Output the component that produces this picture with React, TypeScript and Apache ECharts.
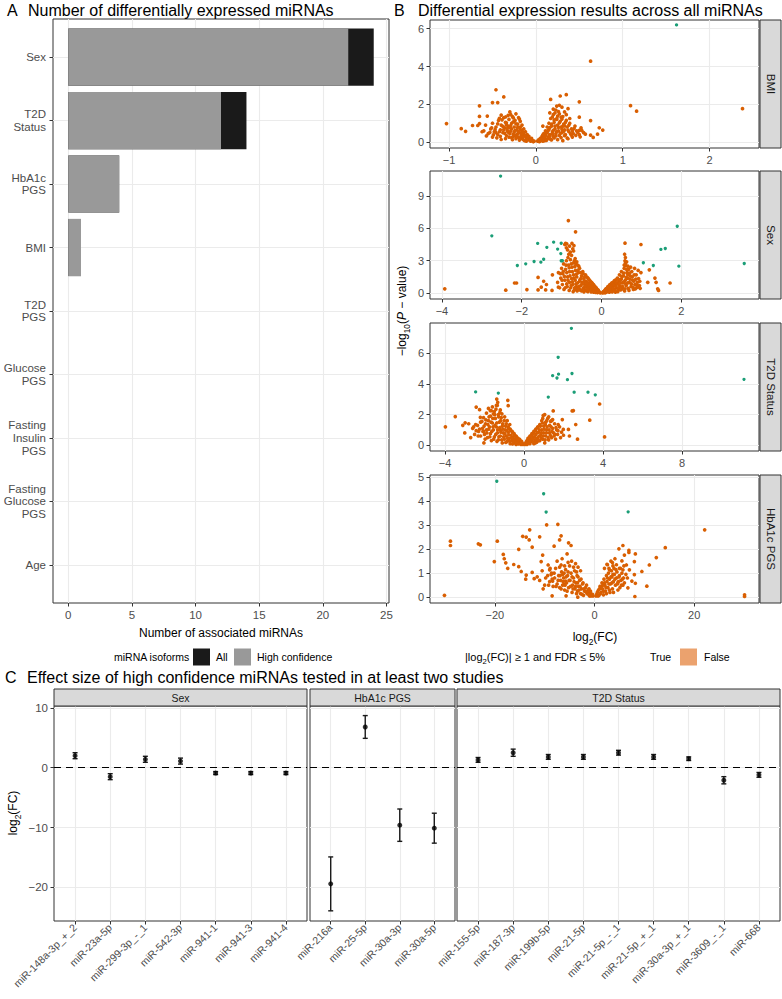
import React, { useEffect, useRef } from "react";
import * as echarts from "echarts";

const FONT = "'Liberation Sans', Arial, Helvetica, sans-serif";

// ---------- Panel A ----------
const studyCategories = ["Sex", "T2D Status", "HbA1c PGS", "BMI", "T2D PGS", "Glucose PGS", "Fasting Insulin PGS", "Fasting Glucose PGS", "Age"];
const studyTickLabels = ["Sex", "T2D\nStatus", "HbA1c\nPGS", "BMI", "T2D\nPGS", "Glucose\nPGS", "Fasting\nInsulin\nPGS", "Fasting\nGlucose\nPGS", "Age"];
const countAll = [24, 14, 4, 1, 0, 0, 0, 0, 0];
const countHighConfidence = [22, 12, 4, 1, 0, 0, 0, 0, 0];
const countTicks = [0, 5, 10, 15, 20, 25];

// ---------- Panel B (log2FC, -log10 P) ----------
const bmiFalse = [
  [0.63, 4.28], [-0.46, 2.77], [-0.37, 2.39], [-0.5, 2.09], [-0.44, 2.09], [-0.65, 1.92], [-1.03, 0.98], [-0.86, 0.71], [-0.81, 0.57], [-0.73, 0.88],
  [-0.65, 1.36], [-0.65, 0.98], [-0.56, 1.38], [-0.62, 0.55], [-0.67, 0.88], [-0.51, 0.76], [-0.4, 1.43], [0.35, 2.51], [0.28, 2.44], [0.5, 2.13],
  [0.37, 1.77], [0.17, 2.26], [0.24, 1.91], [0.5, 1.32], [0.63, 1.14], [1.09, 1.93], [1.16, 1.64], [2.38, 1.77], [0.73, 0.76], [0.77, 0.64],
  [0.63, 0.37], [0.66, 0.25], [0.71, 0.42], [0.37, 0.18], [0.5, 0.62], [0.41, 0.37], [0.31, 0.85], [0.24, 1.2], [0.16, 1.55], [0.08, 0.85],
  [-0.02, 0.05], [-0.04, 0.1], [-0.05, 0.2], [-0.06, 0.05], [-0.08, 0.3], [-0.08, 0.15], [-0.1, 0.4], [-0.1, 0.2], [-0.11, 0.05], [-0.12, 0.55],
  [-0.12, 0.3], [-0.14, 0.7], [-0.14, 0.45], [-0.15, 0.15], [-0.16, 0.9], [-0.16, 0.6], [-0.17, 0.35], [-0.18, 1.1], [-0.18, 0.8], [-0.19, 0.5],
  [-0.2, 0.25], [-0.2, 1.3], [-0.21, 0.95], [-0.22, 0.65], [-0.22, 0.4], [-0.23, 1.5], [-0.24, 1.15], [-0.25, 0.8], [-0.25, 0.55], [-0.26, 0.3],
  [-0.27, 1.35], [-0.28, 1.0], [-0.28, 0.7], [-0.3, 0.45], [-0.3, 1.6], [-0.31, 1.2], [-0.32, 0.85], [-0.33, 0.6], [-0.34, 0.35], [-0.35, 1.05],
  [-0.36, 0.75], [-0.37, 1.3], [-0.38, 0.5], [-0.4, 0.9], [-0.41, 0.65], [-0.43, 1.15], [-0.44, 0.4], [-0.46, 0.8], [-0.48, 0.55], [-0.5, 1.0],
  [-0.52, 0.7], [-0.55, 0.45], [-0.58, 0.9], [-0.6, 0.6],
  [-0.03, 0.02], [-0.07, 0.09], [-0.09, 0.27], [-0.13, 0.08], [-0.13, 0.36], [-0.15, 0.52], [-0.17, 0.21], [-0.18, 0.67], [-0.19, 0.11], [-0.21, 0.44],
  [-0.21, 0.78], [-0.23, 0.19], [-0.23, 0.97], [-0.24, 0.61], [-0.26, 0.42], [-0.26, 1.07], [-0.27, 0.13], [-0.29, 0.58], [-0.29, 0.88], [-0.31, 0.27],
  [-0.32, 1.42], [-0.33, 0.72], [-0.34, 1.02], [-0.35, 0.19], [-0.36, 0.47], [-0.38, 0.83], [-0.39, 1.18], [-0.41, 0.31], [-0.42, 0.55], [-0.44, 0.97],
  [-0.45, 0.23], [-0.47, 0.66], [-0.49, 0.38], [-0.53, 0.52], [-0.57, 0.33], [-0.19, 1.22], [-0.26, 1.28], [-0.29, 1.45], [-0.35, 1.33], [-0.42, 1.26],
  [-0.22, 0.31], [-0.15, 0.29], [-0.11, 0.17], [-0.06, 0.13], [-0.32, 0.53], [-0.37, 0.66], [-0.4, 0.14], [-0.28, 0.24], [-0.24, 0.36], [-0.2, 0.55],
  [-0.16, 0.44], [-0.3, 0.77], [-0.34, 0.91], [-0.46, 0.5], [-0.5, 0.27],
  [0.02, 0.05], [0.03, 0.12], [0.05, 0.2], [0.05, 0.06], [0.07, 0.3], [0.07, 0.12], [0.09, 0.45], [0.09, 0.22], [0.1, 0.08], [0.11, 0.6],
  [0.11, 0.35], [0.12, 0.15], [0.13, 0.8], [0.13, 0.5], [0.14, 0.28], [0.15, 1.0], [0.15, 0.65], [0.16, 0.4], [0.17, 0.15], [0.17, 1.25],
  [0.18, 0.85], [0.19, 0.55], [0.2, 0.3], [0.2, 1.45], [0.21, 1.05], [0.22, 0.7], [0.23, 0.45], [0.23, 1.7], [0.24, 1.25], [0.25, 0.9],
  [0.26, 0.6], [0.27, 0.35], [0.27, 1.5], [0.28, 1.1], [0.29, 0.8], [0.3, 0.5], [0.31, 1.35], [0.32, 0.95], [0.33, 0.65], [0.34, 0.4],
  [0.35, 1.15], [0.36, 0.8], [0.38, 0.55], [0.39, 1.0], [0.41, 0.7], [0.43, 0.45], [0.45, 0.85], [0.47, 0.6], [0.5, 0.4], [0.52, 0.75], [0.55, 0.5],
  [0.04, 0.03], [0.06, 0.15], [0.08, 0.05], [0.08, 0.38], [0.1, 0.27], [0.12, 0.47], [0.12, 0.09], [0.14, 0.63], [0.14, 0.19], [0.16, 0.77],
  [0.16, 0.31], [0.18, 0.12], [0.18, 0.95], [0.19, 0.42], [0.2, 0.62], [0.21, 0.22], [0.21, 1.18], [0.22, 0.85], [0.23, 0.33], [0.24, 0.56],
  [0.25, 1.38], [0.25, 0.13], [0.26, 0.78], [0.27, 1.02], [0.28, 0.46], [0.29, 0.24], [0.3, 0.68], [0.3, 1.22], [0.31, 0.08], [0.32, 0.57],
  [0.33, 0.34], [0.33, 0.86], [0.34, 1.05], [0.36, 0.22], [0.37, 0.64], [0.38, 0.9], [0.4, 0.44], [0.42, 0.27], [0.42, 0.58], [0.44, 0.72],
  [0.46, 0.36], [0.48, 0.52], [0.51, 0.28], [0.53, 0.61], [0.57, 0.42], [0.26, 1.62], [0.22, 1.55], [0.29, 1.32], [0.19, 1.33], [0.35, 1.45],
  [0.33, 1.6], [0.3, 1.85], [0.27, 1.95], [0.2, 1.75], [0.39, 1.25],
];
const bmiTrue = [[1.62, 6.2]];

const sexFalse = [
  [-0.83, 6.71], [-0.65, 5.67], [-3.93, 0.4], [-2.4, 0.28], [-2.18, 0.94], [-2.13, 0.94], [-1.87, 0.33], [-1.59, 1.46], [-1.59, 0.3], [-1.51, 0.55],
  [-1.45, 1.1], [-1.38, 0.8], [-1.4, 0.3], [-1.23, 1.7], [-1.24, 0.25], [-1.08, 0.55], [0.59, 4.62], [0.99, 4.5], [0.58, 3.6], [0.59, 3.0],
  [0.6, 2.8], [0.99, 1.9], [1.2, 2.16], [1.34, 1.4], [1.37, 1.0], [1.16, 1.0], [1.41, 0.4], [1.43, 0.25], [1.72, 0.94], [0.9, 0.55], [0.96, 1.1],
  [-0.05, 0.1], [-0.08, 0.25], [-0.1, 0.05], [-0.12, 0.4], [-0.14, 0.2], [-0.16, 0.6], [-0.18, 0.35], [-0.2, 0.1], [-0.2, 0.8], [-0.22, 0.5],
  [-0.25, 1.0], [-0.25, 0.25], [-0.27, 0.7], [-0.3, 1.2], [-0.3, 0.4], [-0.32, 0.9], [-0.34, 0.15], [-0.35, 1.45], [-0.36, 0.6], [-0.38, 1.1],
  [-0.4, 0.3], [-0.4, 1.7], [-0.42, 0.8], [-0.44, 1.3], [-0.45, 0.5], [-0.47, 2.0], [-0.48, 1.0], [-0.5, 0.2], [-0.5, 1.6], [-0.52, 0.7],
  [-0.54, 1.25], [-0.55, 2.3], [-0.56, 0.4], [-0.58, 1.9], [-0.6, 0.95], [-0.6, 2.6], [-0.62, 1.5], [-0.63, 0.6], [-0.65, 2.1], [-0.66, 1.2],
  [-0.68, 0.3], [-0.7, 2.8], [-0.7, 1.7], [-0.72, 0.8], [-0.74, 2.4], [-0.75, 1.35], [-0.77, 0.5], [-0.78, 3.1], [-0.8, 2.0], [-0.8, 1.0],
  [-0.82, 3.6], [-0.83, 2.6], [-0.85, 1.5], [-0.86, 0.6], [-0.88, 4.2], [-0.88, 3.0], [-0.9, 2.2], [-0.9, 4.6], [-0.92, 1.2], [-0.94, 0.35],
  [-0.95, 2.7], [-0.97, 1.8], [-0.98, 0.8], [-1.0, 2.3], [-1.02, 1.4], [-1.05, 0.5], [-1.08, 1.9], [-1.1, 1.0], [-0.72, 4.1], [-0.7, 3.9],
  [-0.75, 3.5], [-0.66, 3.2], [-0.62, 2.9], [-0.92, 4.5], [-0.87, 4.55],
  [-0.03, 0.03], [-0.06, 0.12], [-0.09, 0.3], [-0.11, 0.16], [-0.13, 0.5], [-0.15, 0.08], [-0.17, 0.45], [-0.19, 0.7], [-0.21, 0.22], [-0.23, 0.9],
  [-0.24, 0.55], [-0.26, 0.12], [-0.28, 1.1], [-0.29, 0.33], [-0.31, 0.68], [-0.33, 1.35], [-0.33, 0.48], [-0.36, 0.9], [-0.37, 0.2], [-0.39, 1.55],
  [-0.41, 0.62], [-0.43, 1.05], [-0.44, 0.12], [-0.46, 1.8], [-0.46, 0.38], [-0.49, 0.85], [-0.51, 1.4], [-0.53, 0.28], [-0.55, 1.1], [-0.57, 0.6],
  [-0.59, 2.1], [-0.61, 0.2], [-0.63, 1.75], [-0.64, 0.85], [-0.67, 2.45], [-0.67, 0.5], [-0.69, 1.4], [-0.71, 0.15], [-0.73, 2.0], [-0.73, 1.05],
  [-0.76, 2.7], [-0.76, 0.7], [-0.79, 1.6], [-0.81, 0.25], [-0.81, 2.35], [-0.84, 1.2], [-0.84, 3.3], [-0.87, 1.9], [-0.87, 0.85], [-0.89, 2.6],
  [-0.91, 0.5], [-0.93, 1.55], [-0.96, 2.0], [-0.99, 1.2], [-1.03, 1.8], [-0.68, 3.0], [-0.78, 3.8], [-0.85, 4.0], [-0.8, 4.35], [-0.74, 4.6],
  [-0.69, 4.4], [-0.64, 2.7], [-0.57, 2.5], [-0.52, 1.9], [-0.42, 1.5], [-0.35, 0.35], [-0.47, 0.3], [-0.6, 0.4],
  [0.04, 0.08], [0.07, 0.2], [0.1, 0.05], [0.1, 0.35], [0.13, 0.15], [0.15, 0.5], [0.17, 0.3], [0.2, 0.1], [0.2, 0.65], [0.22, 0.45],
  [0.25, 0.85], [0.25, 0.2], [0.28, 0.6], [0.3, 1.0], [0.3, 0.35], [0.33, 0.8], [0.35, 1.2], [0.35, 0.1], [0.37, 0.5], [0.4, 1.4],
  [0.4, 0.9], [0.42, 0.3], [0.44, 1.1], [0.45, 1.7], [0.47, 0.65], [0.5, 1.3], [0.5, 2.0], [0.52, 0.4], [0.54, 0.95], [0.55, 1.6],
  [0.57, 2.3], [0.58, 0.2], [0.6, 1.2], [0.6, 2.6], [0.62, 0.7], [0.64, 1.9], [0.65, 1.4], [0.67, 0.45], [0.68, 2.2], [0.7, 1.0],
  [0.72, 1.6], [0.74, 0.6], [0.76, 2.0], [0.78, 1.2], [0.8, 0.35], [0.82, 1.7], [0.84, 0.8], [0.86, 1.3], [0.88, 0.5], [0.9, 1.0], [0.92, 2.1], [0.95, 0.7],
  [0.03, 0.02], [0.05, 0.14], [0.08, 0.05], [0.09, 0.26], [0.12, 0.1], [0.12, 0.42], [0.14, 0.25], [0.16, 0.6], [0.18, 0.15], [0.19, 0.42],
  [0.21, 0.8], [0.23, 0.28], [0.24, 0.58], [0.26, 0.95], [0.27, 0.12], [0.29, 0.45], [0.31, 0.75], [0.32, 1.15], [0.34, 0.25], [0.36, 0.62],
  [0.38, 0.95], [0.39, 1.3], [0.41, 0.15], [0.43, 0.5], [0.43, 0.8], [0.46, 1.25], [0.48, 0.3], [0.49, 0.95], [0.51, 1.55], [0.53, 0.6],
  [0.56, 1.05], [0.56, 1.85], [0.59, 0.4], [0.61, 0.85], [0.62, 1.45], [0.63, 2.2], [0.66, 0.95], [0.66, 1.7], [0.69, 0.25], [0.71, 1.3],
  [0.73, 2.4], [0.75, 0.85], [0.77, 1.5], [0.79, 0.55], [0.81, 1.1], [0.83, 2.3], [0.85, 0.4], [0.87, 1.7], [0.89, 0.75], [0.93, 1.35],
  [0.97, 0.45], [0.7, 1.85], [0.6, 3.3], [0.63, 2.9], [0.57, 2.6], [0.66, 2.5],
];
const sexTrue = [
  [-2.53, 10.83], [-2.75, 5.3], [-2.11, 2.56], [-1.9, 2.71], [-1.69, 2.93], [-1.6, 4.6], [-1.52, 2.87], [-1.45, 3.14], [-1.37, 4.24], [-1.2, 4.72],
  [-1.1, 4.08], [-1.01, 4.62], [-1.02, 3.66], [-1.01, 3.0], [-0.98, 3.0], [1.9, 6.19], [1.49, 4.05], [1.6, 4.13], [1.05, 2.81], [1.3, 2.56],
  [1.94, 2.5], [3.58, 2.74],
];

const t2dFalse = [
  [-3.98, 1.2], [-3.48, 1.87], [-2.98, 1.46], [-2.42, 2.49], [-2.25, 2.32], [-2.45, 1.35], [-2.21, 1.82], [-2.04, 0.9], [-2.03, 0.15], [-1.71, 2.26],
  [-1.38, 3.01], [-1.33, 2.8], [-0.82, 2.93], [-0.8, 2.58], [3.83, 2.69], [4.08, 0.54], [3.33, 1.63], [2.62, 1.35], [2.71, 0.39], [2.5, 2.26],
  [2.44, 2.24], [1.48, 2.24], [1.45, 1.67], [1.94, 1.67], [1.99, 1.03], [2.3, 0.6], [2.25, 1.03], [0.97, 1.94], [1.73, 1.35], [1.56, 0.7],
  [-0.05, 0.05], [-0.1, 0.15], [-0.15, 0.05], [-0.2, 0.3], [-0.25, 0.15], [-0.3, 0.45], [-0.35, 0.25], [-0.4, 0.05], [-0.4, 0.6], [-0.45, 0.4],
  [-0.5, 0.75], [-0.5, 0.15], [-0.55, 0.5], [-0.6, 0.9], [-0.6, 0.3], [-0.65, 0.65], [-0.7, 1.05], [-0.7, 0.1], [-0.75, 0.45], [-0.8, 0.85],
  [-0.8, 1.2], [-0.85, 0.25], [-0.9, 0.6], [-0.9, 1.4], [-0.95, 1.0], [-1.0, 0.4], [-1.0, 1.6], [-1.05, 0.8], [-1.1, 1.25], [-1.1, 0.15],
  [-1.15, 1.8], [-1.2, 0.6], [-1.2, 1.0], [-1.25, 1.5], [-1.3, 0.35], [-1.3, 2.0], [-1.35, 0.8], [-1.4, 1.2], [-1.45, 1.75], [-1.5, 0.55],
  [-1.5, 2.2], [-1.55, 1.0], [-1.6, 1.45], [-1.65, 0.3], [-1.7, 1.9], [-1.7, 0.75], [-1.75, 1.2], [-1.8, 1.6], [-1.85, 0.5], [-1.9, 2.1],
  [-1.9, 1.0], [-1.95, 1.4], [-2.0, 0.7], [-2.05, 1.8], [-2.1, 1.1], [-2.2, 0.6], [-2.2, 1.5], [-2.3, 0.9], [-2.35, 1.3], [-2.5, 0.7],
  [-2.6, 1.1], [-2.7, 0.5], [-2.8, 1.4], [-3.0, 0.8], [-3.1, 1.3], [-1.6, 2.5], [-1.4, 2.6], [-1.2, 2.3], [-1.8, 2.4],
  [-0.08, 0.08], [-0.12, 0.25], [-0.18, 0.12], [-0.22, 0.38], [-0.28, 0.08], [-0.33, 0.32], [-0.37, 0.52], [-0.43, 0.18], [-0.47, 0.65], [-0.53, 0.35],
  [-0.57, 0.82], [-0.58, 0.08], [-0.63, 0.48], [-0.67, 0.95], [-0.73, 0.28], [-0.77, 0.68], [-0.78, 1.1], [-0.83, 0.45], [-0.87, 0.95], [-0.92, 0.18],
  [-0.93, 1.25], [-0.97, 0.75], [-1.03, 0.55], [-1.07, 1.05], [-1.08, 1.4], [-1.13, 0.35], [-1.17, 0.85], [-1.18, 1.6], [-1.23, 1.15], [-1.27, 0.55],
  [-1.28, 1.85], [-1.33, 1.0], [-1.37, 0.25], [-1.38, 1.45], [-1.43, 0.7], [-1.47, 1.3], [-1.48, 2.0], [-1.53, 0.4], [-1.57, 1.2], [-1.58, 1.75],
  [-1.63, 0.9], [-1.67, 1.5], [-1.73, 0.55], [-1.77, 1.85], [-1.78, 1.05], [-1.83, 1.35], [-1.88, 0.8], [-1.93, 1.65], [-1.97, 0.4], [-2.02, 1.25],
  [-2.08, 0.9], [-2.13, 1.55], [-2.25, 1.05], [-2.32, 0.6], [-2.42, 0.95], [-2.55, 1.2], [-0.98, 1.85], [-1.12, 2.05], [-1.22, 2.15], [-1.42, 2.35],
  [-1.55, 2.05], [-1.65, 2.25], [-1.35, 2.6], [-0.85, 1.6], [-0.72, 1.35],
  [0.05, 0.05], [0.1, 0.15], [0.15, 0.3], [0.15, 0.05], [0.2, 0.45], [0.25, 0.2], [0.3, 0.6], [0.3, 0.1], [0.35, 0.4], [0.4, 0.75],
  [0.4, 0.25], [0.45, 0.55], [0.5, 0.9], [0.5, 0.1], [0.55, 0.35], [0.6, 0.7], [0.6, 1.05], [0.65, 0.2], [0.7, 0.5], [0.7, 1.2],
  [0.75, 0.85], [0.8, 0.3], [0.8, 1.35], [0.85, 0.65], [0.9, 1.0], [0.9, 1.6], [0.95, 0.4], [1.0, 0.8], [1.0, 1.25], [1.05, 0.15],
  [1.1, 1.5], [1.1, 0.6], [1.15, 1.0], [1.2, 1.75], [1.25, 0.35], [1.3, 1.3], [1.3, 0.8], [1.35, 1.55], [1.4, 0.5], [1.45, 1.1],
  [1.5, 0.8], [1.55, 1.4], [1.6, 0.4], [1.65, 1.0], [1.7, 0.7], [1.8, 1.2], [1.85, 0.5], [1.9, 0.85], [2.0, 0.65],
  [0.08, 0.1], [0.12, 0.22], [0.18, 0.12], [0.22, 0.35], [0.27, 0.5], [0.28, 0.2], [0.33, 0.28], [0.37, 0.62], [0.42, 0.42], [0.47, 0.78],
  [0.48, 0.2], [0.53, 0.55], [0.57, 0.95], [0.58, 0.15], [0.63, 0.4], [0.67, 0.82], [0.68, 1.15], [0.73, 0.3], [0.77, 0.6], [0.78, 1.0],
  [0.83, 1.25], [0.87, 0.45], [0.88, 0.8], [0.93, 1.45], [0.97, 0.6], [1.02, 1.05], [1.07, 0.35], [1.08, 1.35], [1.13, 0.8], [1.17, 1.2],
  [1.22, 0.5], [1.27, 1.0], [1.33, 0.65], [1.37, 1.2], [1.42, 0.9], [1.52, 0.6], [1.62, 1.15], [1.72, 0.95], [0.95, 1.75], [1.15, 1.6],
  [1.25, 1.85], [1.4, 1.6], [1.05, 2.0],
];
const t2dTrue = [
  [2.4, 7.63], [1.73, 5.74], [1.45, 4.54], [1.75, 4.64], [1.67, 4.39], [2.2, 4.28], [2.43, 4.68], [1.23, 3.14], [2.54, 3.46], [3.24, 3.46],
  [3.61, 3.29], [-2.45, 3.48], [-1.3, 3.4], [11.14, 4.3],
];

const hba1cFalse = [
  [-9.6, 3.01], [-7.35, 3.03], [-13.0, 2.8], [-14.4, 2.53], [-13.7, 2.5], [-11.0, 2.51], [-13.1, 2.38], [-6.7, 2.55], [-7.0, 2.38], [-5.2, 2.26],
  [-4.7, 2.15], [-8.1, 2.12], [-15.2, 1.99], [-12.5, 2.08], [-19.5, 2.33], [-28.9, 2.33], [-28.9, 2.15], [-23.3, 2.22], [-22.9, 2.18], [-20.1, 1.48],
  [-18.3, 1.78], [-18.1, 1.6], [-17.8, 1.43], [-17.4, 1.2], [-16.2, 1.36], [-15.2, 1.27], [-14.7, 1.07], [-13.7, 0.92], [-13.8, 0.75], [-12.5, 1.03],
  [-12.1, 0.77], [-30.1, 0.08], [-10.4, 1.75], [-10.7, 1.48], [-9.3, 1.34], [-9.0, 1.14], [-8.7, 0.94], [-8.4, 0.67], [-8.5, 0.06], [-6.7, 1.34],
  [-6.4, 0.94], [-6.1, 0.53], [-5.7, 0.06], [-5.8, 0.67], [22.1, 2.8], [14.2, 2.06], [12.4, 1.65], [11.0, 1.34], [9.5, 1.07], [10.5, 0.46],
  [8.2, 1.8], [8.0, 1.48], [8.0, 0.94], [8.2, 0.58], [8.1, 0.03], [30.1, 0.1], [30.1, 0.03], [5.7, 2.15], [4.9, 2.01], [6.9, 1.95],
  [6.9, 1.86], [6.0, 1.75], [5.5, 1.51], [6.4, 1.34], [5.7, 1.14], [7.0, 1.14], [5.0, 1.2], [3.6, 1.44], [3.0, 1.14], [2.5, 1.37],
  [6.7, 0.39], [7.5, 0.67], [5.7, 0.5], [4.7, 0.61], [-3.35, 0.0], [-1.3, 0.18],
  [-0.3, 0.05], [-0.6, 0.12], [-0.9, 0.2], [-1.0, 0.05], [-1.3, 0.3], [-1.5, 0.15], [-1.8, 0.4], [-2.0, 0.25], [-2.2, 0.08], [-2.4, 0.55],
  [-2.6, 0.35], [-2.8, 0.15], [-3.0, 0.7], [-3.2, 0.45], [-3.4, 0.25], [-3.5, 0.9], [-3.7, 0.6], [-3.9, 0.35], [-4.0, 1.1], [-4.2, 0.8],
  [-4.4, 0.5], [-4.5, 0.2], [-4.7, 1.0], [-4.9, 0.7], [-5.0, 1.3], [-5.2, 0.4], [-5.4, 0.9], [-5.6, 0.6], [-5.8, 1.15], [-6.0, 0.3],
  [-6.2, 0.8], [-6.4, 0.5], [-6.6, 1.05], [-6.8, 0.7], [-7.0, 0.4], [-7.2, 0.9], [-7.5, 0.55], [-7.8, 1.2], [-8.0, 0.8], [-8.3, 0.45],
  [-8.6, 1.0], [-9.0, 0.65], [-9.4, 0.9], [-10.0, 0.5], [-10.5, 1.1], [-11.0, 0.7], [-11.5, 0.85], [-4.6, 1.5], [-3.8, 1.4], [-6.5, 1.6],
  [-5.5, 1.8], [-7.5, 1.5], [-2.8, 1.1], [-3.3, 1.25],
  [-0.4, 0.12], [-0.7, 0.05], [-0.8, 0.25], [-1.2, 0.12], [-1.1, 0.35], [-1.6, 0.5], [-1.7, 0.22], [-2.1, 0.35], [-2.3, 0.6], [-2.5, 0.12],
  [-2.7, 0.75], [-2.9, 0.45], [-3.1, 0.3], [-3.3, 0.85], [-3.4, 0.6], [-3.6, 0.15], [-3.8, 0.45], [-4.1, 0.65], [-4.3, 0.35], [-4.5, 0.85],
  [-4.8, 0.45], [-5.1, 0.7], [-5.3, 1.05], [-5.5, 0.25], [-5.7, 0.85], [-5.9, 0.5], [-6.1, 1.0], [-6.3, 0.65], [-6.7, 0.35], [-6.9, 0.9],
  [-7.3, 0.7], [-7.7, 0.45], [-8.1, 1.0], [-8.5, 0.75], [-9.2, 0.5], [-9.8, 0.8], [-10.3, 0.35], [-4.2, 1.25], [-5.3, 1.45], [-6.0, 1.3],
  [-7.0, 1.25], [-8.9, 1.2], [-3.6, 1.05],
  [0.3, 0.05], [0.5, 0.15], [0.8, 0.3], [0.9, 0.08], [1.1, 0.45], [1.3, 0.2], [1.5, 0.6], [1.6, 0.35], [1.8, 0.1], [1.9, 0.75],
  [2.1, 0.5], [2.2, 0.25], [2.4, 0.9], [2.5, 0.65], [2.7, 0.4], [2.8, 1.0], [3.0, 0.75], [3.1, 0.2], [3.2, 0.55], [3.4, 1.1],
  [3.5, 0.85], [3.6, 0.35], [3.8, 0.65], [3.9, 1.2], [4.0, 0.95], [4.2, 0.5], [4.4, 0.8], [4.5, 1.05], [4.7, 0.3], [4.8, 0.65],
  [5.0, 0.9], [5.2, 1.2], [5.4, 0.5], [5.6, 0.75], [6.0, 0.6], [6.3, 0.95], [2.0, 1.2], [2.6, 1.35], [3.3, 1.5], [4.1, 1.6],
  [0.4, 0.1], [0.6, 0.22], [0.7, 0.05], [1.0, 0.35], [1.2, 0.15], [1.4, 0.45], [1.7, 0.5], [1.8, 0.25], [2.0, 0.6], [2.3, 0.4],
  [2.4, 0.15], [2.6, 0.8], [2.9, 0.55], [3.0, 0.3], [3.3, 0.85], [3.5, 0.6], [3.7, 0.95], [3.8, 0.2], [4.1, 0.75], [4.3, 1.15],
  [4.6, 0.55], [4.9, 0.85], [5.1, 0.4], [5.3, 0.7], [5.5, 1.0], [5.8, 0.8], [4.4, 1.35], [3.7, 1.3], [5.9, 1.3], [6.6, 0.8], [2.9, 1.2],
];
const hba1cTrue = [[-19.6, 4.82], [-10.2, 4.3], [-9.7, 3.54], [6.75, 3.55]];

// ---------- Panel C ----------
const sexMirnas = ["miR-148a-3p_+_2", "miR-23a-5p", "miR-299-3p_-_1", "miR-542-3p", "miR-941-1", "miR-941-3", "miR-941-4"];
const sexLog2FC = [2.0, -1.5, 1.4, 1.1, -0.9, -0.9, -0.9];
const sexErr = [0.5, 0.5, 0.5, 0.5, 0.25, 0.25, 0.25];
const hba1cMirnas = ["miR-216a", "miR-25-5p", "miR-30a-3p", "miR-30a-5p"];
const hba1cLog2FC = [-19.4, 6.8, -9.6, -10.1];
const hba1cErr = [4.5, 1.9, 2.7, 2.5];
const t2dMirnas = ["miR-155-5p", "miR-187-3p", "miR-199b-5p", "miR-21-5p", "miR-21-5p_-_1", "miR-21-5p_+_1", "miR-30a-3p_+_1", "miR-3609_-_1", "miR-668"];
const t2dLog2FC = [1.3, 2.5, 1.8, 1.8, 2.5, 1.8, 1.5, -2.1, -1.2];
const t2dErr = [0.4, 0.6, 0.4, 0.4, 0.4, 0.4, 0.3, 0.6, 0.4];
const effectTicks = [-20, -10, 0, 10];

const ORANGE = "#D95F02";
const GREEN = "#1B9E77";
const TICK_COLOR = "#333333";
const LABEL_COLOR = "#4D4D4D";
const GRID_COLOR = "#EBEBEB";
const BORDER = "#333333";

const fmt = (v: number) => (v < 0 ? "\u2212" + Math.abs(v) : String(v));

function mkAxis(gridIndex: number, min: number, max: number, ticks: number[], o: any = {}) {
  const show = o.show !== false;
  return {
    type: "value",
    gridIndex,
    min,
    max,
    inverse: !!o.inverse,
    axisLine: { show: false, onZero: false },
    axisTick: { show, length: 3.5, lineStyle: { color: TICK_COLOR, width: 1 }, customValues: ticks },
    axisLabel: {
      show,
      customValues: ticks,
      formatter: o.formatter || fmt,
      color: LABEL_COLOR,
      fontSize: o.fontSize || 11,
      fontFamily: FONT,
      margin: o.margin ?? 6,
      rotate: o.rotate || 0,
      lineHeight: o.lineHeight,
    },
    splitLine: { show: true, customValues: ticks, lineStyle: { color: GRID_COLOR, width: 1.1 } },
  };
}

function txt(x: number, y: number, text: string, o: any = {}) {
  return {
    type: "text",
    x,
    y,
    rotation: o.rotation || 0,
    silent: true,
    z: 100,
    style: {
      text,
      fill: o.fill || "#000000",
      fontSize: o.fontSize || 12,
      fontFamily: FONT,
      fontStyle: o.fontStyle || "normal",
      align: o.align || "left",
      verticalAlign: o.va || "middle",
      rich: o.rich,
    },
  };
}

function rect(x: number, y: number, w: number, h: number, fill: string, stroke?: string) {
  return {
    type: "rect",
    silent: true,
    z: 99,
    shape: { x, y, width: w, height: h },
    style: { fill, stroke: stroke || null, lineWidth: stroke ? 1 : 0 },
  };
}

const subRich = (size: number) => ({
  n: { fontSize: size, fontFamily: FONT, lineHeight: size + 5, verticalAlign: "middle", fill: "#000" },
  s: { fontSize: size * 0.7, fontFamily: FONT, lineHeight: size * 0.7, verticalAlign: "bottom", fill: "#000" },
  i: { fontSize: size, fontFamily: FONT, fontStyle: "italic", lineHeight: size + 5, verticalAlign: "middle", fill: "#000" },
});

function buildOption() {
  const grids: any[] = [];
  const xAxes: any[] = [];
  const yAxes: any[] = [];
  const series: any[] = [];
  const graphics: any[] = [];

  const gridBox = (left: number, top: number, width: number, height: number) => ({
    left, top, width, height, show: true, borderColor: BORDER, borderWidth: 1, backgroundColor: "transparent", containLabel: false,
  });

  // ===== Panel A =====
  grids.push(gridBox(53, 19, 336, 584));
  xAxes.push(mkAxis(0, -1.2, 25.2, countTicks, { fontSize: 11.5, margin: 6 }));
  yAxes.push(
    mkAxis(0, -0.6, 8.6, studyCategories.map((_, i) => i), {
      inverse: true,
      fontSize: 11.5,
      margin: 7,
      lineHeight: 12.7,
      formatter: (v: number) => studyTickLabels[v],
    })
  );
  const barRender = (fill: string) => (params: any, api: any) => {
    const i = api.value(0);
    const v = api.value(1);
    const p0 = api.coord([0, i]);
    const p1 = api.coord([v, i]);
    const h = Math.abs(api.size([0, 0.9])[1]);
    return { type: "rect", shape: { x: p0[0], y: p0[1] - h / 2, width: p1[0] - p0[0], height: h }, style: { fill } };
  };
  series.push({
    type: "custom", name: "All", xAxisIndex: 0, yAxisIndex: 0,
    data: countAll.map((v, i) => [i, v]).filter((d) => d[1] > 0),
    encode: { x: 1, y: 0 }, renderItem: barRender("#1A1A1A"), z: 3,
  });
  series.push({
    type: "custom", name: "High confidence", xAxisIndex: 0, yAxisIndex: 0,
    data: countHighConfidence.map((v, i) => [i, v]).filter((d) => d[1] > 0),
    encode: { x: 1, y: 0 }, renderItem: barRender("#999999"), z: 4,
  });

  // ===== Panel B =====
  const bPanels = [
    { name: "BMI", top: 20, x: [-1.22, 2.57], xt: [-1, 0, 1, 2], y: [-0.31, 6.46], yt: [0, 2, 4, 6], f: bmiFalse, t: bmiTrue },
    { name: "Sex", top: 171, x: [-4.3, 3.95], xt: [-4, -2, 0, 2], y: [-0.54, 11.3], yt: [0, 3, 6, 9], f: sexFalse, t: sexTrue },
    { name: "T2D Status", top: 323, x: [-4.76, 11.9], xt: [-4, 0, 4, 8], y: [-0.38, 7.98], yt: [0, 2, 4, 6], f: t2dFalse, t: t2dTrue },
    { name: "HbA1c PGS", top: 475, x: [-33, 33], xt: [-20, 0, 20], y: [-0.24, 5.08], yt: [0, 1, 2, 3, 4, 5], f: hba1cFalse, t: hba1cTrue },
  ];
  const bH = 128;
  bPanels.forEach((p) => {
    const gi = grids.length;
    grids.push(gridBox(430, p.top, 329, bH));
    xAxes.push(mkAxis(gi, p.x[0], p.x[1], p.xt, { fontSize: 11, margin: 6 }));
    yAxes.push(mkAxis(gi, p.y[0], p.y[1], p.yt, { fontSize: 11, margin: 6 }));
    series.push({
      type: "scatter", name: "False", xAxisIndex: gi, yAxisIndex: gi, data: p.f,
      symbolSize: 3.7, itemStyle: { color: ORANGE, opacity: 1 }, silent: true, z: 3,
    });
    series.push({
      type: "scatter", name: "True", xAxisIndex: gi, yAxisIndex: gi, data: p.t,
      symbolSize: 3.3, itemStyle: { color: GREEN, opacity: 1 }, silent: true, z: 4,
    });
    graphics.push(rect(760, p.top, 21, bH, "#D9D9D9", BORDER));
    graphics.push(txt(770.5, p.top + bH / 2, p.name, { align: "center", fontSize: 11.5, rotation: -Math.PI / 2, fill: "#1A1A1A" }));
  });

  // ===== Panel C =====
  const cPanels = [
    { name: "Sex", left: 54, width: 253, names: sexMirnas, fc: sexLog2FC, err: sexErr },
    { name: "HbA1c PGS", left: 310, width: 145, names: hba1cMirnas, fc: hba1cLog2FC, err: hba1cErr },
    { name: "T2D Status", left: 457, width: 323, names: t2dMirnas, fc: t2dLog2FC, err: t2dErr },
  ];
  const cTop = 706;
  const cH = 215;
  cPanels.forEach((p, k) => {
    const gi = grids.length;
    grids.push(gridBox(p.left, cTop, p.width, cH));
    const idx = p.names.map((_, i) => i + 1);
    xAxes.push(
      mkAxis(gi, 0.4, p.names.length + 0.6, idx, {
        fontSize: 10.5,
        margin: 5,
        rotate: 45,
        formatter: (v: number) => p.names[v - 1],
      })
    );
    yAxes.push(mkAxis(gi, -25.6, 10.3, effectTicks, { show: k === 0, fontSize: 11.5, margin: 6 }));
    series.push({
      type: "custom", xAxisIndex: gi, yAxisIndex: gi,
      data: p.fc.map((v, i) => [i + 1, v - p.err[i], v + p.err[i]]),
      encode: { x: 0, y: [1, 2] },
      z: 3,
      renderItem: (params: any, api: any) => {
        const x = api.value(0);
        const lo = api.coord([x, api.value(1)]);
        const hi = api.coord([x, api.value(2)]);
        const st = { stroke: "#1A1A1A", lineWidth: 1.4 };
        return {
          type: "group",
          children: [
            { type: "line", shape: { x1: lo[0], y1: lo[1], x2: hi[0], y2: hi[1] }, style: st },
            { type: "line", shape: { x1: lo[0] - 2.5, y1: lo[1], x2: lo[0] + 2.5, y2: lo[1] }, style: st },
            { type: "line", shape: { x1: hi[0] - 2.5, y1: hi[1], x2: hi[0] + 2.5, y2: hi[1] }, style: st },
          ],
        };
      },
    });
    series.push({
      type: "scatter", xAxisIndex: gi, yAxisIndex: gi,
      data: p.fc.map((v, i) => [i + 1, v]),
      symbolSize: 5, itemStyle: { color: "#000000" }, silent: true, z: 4,
      markLine: {
        silent: true, symbol: "none", label: { show: false },
        lineStyle: { type: [7, 5], color: "#000000", width: 1.2 },
        data: [{ yAxis: 0 }],
      },
    });
    graphics.push(rect(p.left, 689, p.width, 17, "#D9D9D9", BORDER));
    graphics.push(txt(p.left + p.width / 2, 697.5, p.name, { align: "center", fontSize: 10.5, fill: "#1A1A1A" }));
  });

  // ===== Titles =====
  graphics.push(txt(7, 10, "A", { fontSize: 16 }));
  graphics.push(txt(28, 10, "Number of differentially expressed miRNAs", { fontSize: 16 }));
  graphics.push(txt(394, 10, "B", { fontSize: 16 }));
  graphics.push(txt(418, 10, "Differential expression results across all miRNAs", { fontSize: 16 }));
  graphics.push(txt(5, 677, "C", { fontSize: 16 }));
  graphics.push(txt(27, 677, "Effect size of high confidence miRNAs tested in at least two studies", { fontSize: 16 }));

  // ===== Axis titles =====
  graphics.push(txt(221, 633, "Number of associated miRNAs", { align: "center", fontSize: 12 }));
  graphics.push(txt(595, 637, "{n|log}{s|2}{n|(FC)}", { align: "center", rich: subRich(12) }));
  graphics.push(txt(402, 311, "{n|\u2212log}{s|10}{n|(}{i|P}{n| \u2212 value)}", { align: "center", rotation: Math.PI / 2, rich: subRich(12) }));
  graphics.push(txt(13, 813, "{n|log}{s|2}{n|(FC)}", { align: "center", rotation: Math.PI / 2, rich: subRich(12) }));

  // ===== Legends =====
  graphics.push(txt(114, 657, "miRNA isoforms", { fontSize: 10.5 }));
  graphics.push(rect(193, 648.5, 17, 17, "#1A1A1A"));
  graphics.push(txt(216, 657, "All", { fontSize: 10.5 }));
  graphics.push(rect(234, 648.5, 17, 17, "#999999"));
  graphics.push(txt(257, 657, "High confidence", { fontSize: 10.5 }));

  graphics.push(txt(465, 657, "{n||log}{s|2}{n|(FC)| \u2265 1 and FDR \u2264 5%}", { rich: subRich(11) }));
  graphics.push(txt(650, 657, "True", { fontSize: 10.5 }));
  graphics.push(rect(680, 648.5, 17, 17, "#EBA26E"));
  graphics.push(txt(704, 657, "False", { fontSize: 10.5 }));

  return {
    animation: false,
    backgroundColor: "#FFFFFF",
    textStyle: { fontFamily: FONT },
    grid: grids,
    xAxis: xAxes,
    yAxis: yAxes,
    series,
    graphic: { elements: graphics },
  };
}

export default function App() {
  const ref = useRef<HTMLDivElement>(null);
  useEffect(() => {
    if (!ref.current) return;
    const chart = echarts.init(ref.current, undefined, { renderer: "svg", width: 782, height: 999 });
    chart.setOption(buildOption() as any);
    return () => chart.dispose();
  }, []);
  return (
    <div
      ref={ref}
      style={{ position: "absolute", left: 0, top: 0, width: 782, height: 999, background: "#FFFFFF" }}
    />
  );
}
